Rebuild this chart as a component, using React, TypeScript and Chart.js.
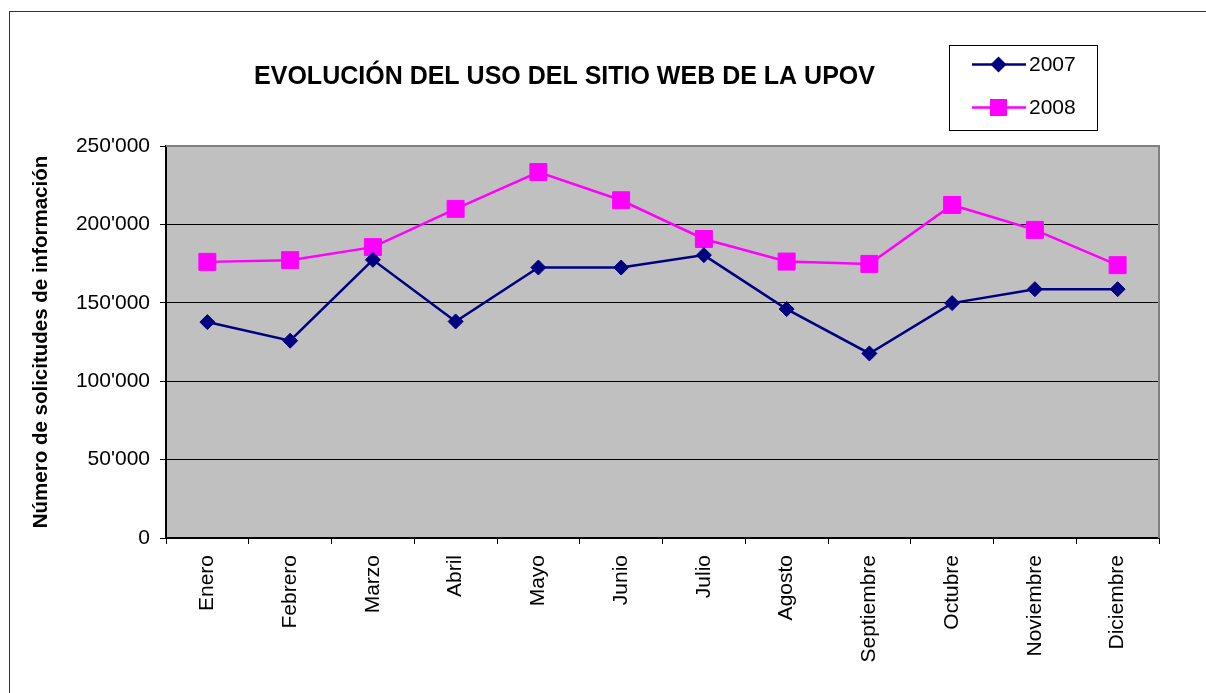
import React, { useEffect, useRef } from "react";
import { Chart, registerables } from "chart.js";

Chart.register(...registerables);

const months = ["Enero", "Febrero", "Marzo", "Abril", "Mayo", "Junio", "Julio", "Agosto", "Septiembre", "Octubre", "Noviembre", "Diciembre"];
const values2007 = [137700, 125800, 177400, 138100, 172500, 172500, 180400, 146000, 117700, 149800, 158700, 158700];
const values2008 = [176100, 177200, 185500, 209900, 233400, 215400, 190700, 176300, 174800, 212400, 196500, 174000];
const seriesNames = ["2007", "2008"];
const titleText = "EVOLUCIÓN DEL USO DEL SITIO WEB DE LA UPOV";
const yAxisTitle = "Número de solicitudes de información";
const yTicks = { min: 0, max: 250000, step: 50000 };

const FONT = "'Liberation Sans', Arial, sans-serif";

const fmt = (v: number) => {
  if (v === 0) return "0";
  const s = Math.round(v).toString();
  return s.replace(/\B(?=(\d{3})+(?!\d))/g, "'");
};

const decorPlugin = {
  id: "decor",
  beforeDraw(chart: any) {
    const { ctx, chartArea, width, height } = chart;
    ctx.save();
    ctx.fillStyle = "#ffffff";
    ctx.fillRect(0, 0, width, height);
    ctx.strokeStyle = "#333333";
    ctx.lineWidth = 1;
    ctx.strokeRect(9.5, 11.5, width + 20, height + 20);
    ctx.fillStyle = "#C0C0C0";
    ctx.fillRect(chartArea.left, chartArea.top, chartArea.right - chartArea.left, chartArea.bottom - chartArea.top);
    ctx.restore();
  },
  beforeDatasetsDraw(chart: any) {
    const { ctx, chartArea } = chart;
    ctx.save();
    ctx.strokeStyle = "#808080";
    ctx.lineWidth = 2;
    ctx.beginPath();
    ctx.moveTo(chartArea.left, chartArea.top);
    ctx.lineTo(chartArea.right, chartArea.top);
    ctx.lineTo(chartArea.right, chartArea.bottom);
    ctx.stroke();
    ctx.restore();
  },
  afterDraw(chart: any) {
    const { ctx } = chart;
    ctx.save();
    // title
    ctx.fillStyle = "#000000";
    ctx.font = `bold 25px ${FONT}`;
    ctx.textAlign = "center";
    ctx.textBaseline = "middle";
    ctx.fillText(titleText, 564.5, 77);
    // legend
    const lx = 949.5, ly = 45.5, lw = 148, lh = 85;
    ctx.fillStyle = "#ffffff";
    ctx.fillRect(lx, ly, lw, lh);
    ctx.strokeStyle = "#000000";
    ctx.lineWidth = 1;
    ctx.strokeRect(lx, ly, lw, lh);
    const rows = [64.5, 107.5];
    chart.data.datasets.forEach((ds: any, i: number) => {
      const y = rows[i];
      ctx.strokeStyle = ds.borderColor;
      ctx.lineWidth = 2.5;
      ctx.beginPath();
      ctx.moveTo(972, y);
      ctx.lineTo(1026, y);
      ctx.stroke();
      ctx.fillStyle = ds.pointBackgroundColor;
      const cx = 998.5;
      if (ds.pointStyle === "rectRot") {
        const r = 8;
        ctx.beginPath();
        ctx.moveTo(cx, y - r);
        ctx.lineTo(cx + r, y);
        ctx.lineTo(cx, y + r);
        ctx.lineTo(cx - r, y);
        ctx.closePath();
        ctx.fill();
      } else {
        ctx.fillRect(cx - 8.5, y - 8.5, 17, 17);
      }
      ctx.fillStyle = "#000000";
      ctx.font = `21px ${FONT}`;
      ctx.textAlign = "left";
      ctx.textBaseline = "middle";
      ctx.fillText(ds.label, 1029, y + 1);
    });
    ctx.restore();
  },
};

export default function App() {
  const ref = useRef<HTMLCanvasElement | null>(null);
  useEffect(() => {
    document.body.style.margin = "0";
    const canvas = ref.current!;
    const chart = new Chart(canvas, {
      type: "line",
      data: {
        labels: months,
        datasets: [
          {
            label: seriesNames[0],
            data: values2007,
            borderColor: "#000080",
            backgroundColor: "#000080",
            pointBackgroundColor: "#000080",
            pointBorderColor: "#000080",
            pointStyle: "rectRot",
            pointRadius: 7.5,
            pointBorderWidth: 1,
            borderWidth: 2.5,
            tension: 0,
          },
          {
            label: seriesNames[1],
            data: values2008,
            borderColor: "#FF00FF",
            backgroundColor: "#FF00FF",
            pointBackgroundColor: "#FF00FF",
            pointBorderColor: "#FF00FF",
            pointStyle: "rect",
            pointRadius: 12,
            pointBorderWidth: 1,
            borderWidth: 2.5,
            tension: 0,
          },
        ],
      },
      options: {
        responsive: false,
        animation: false,
        devicePixelRatio: 1,
        layout: { padding: { left: 0, top: 146, right: 47, bottom: 0 } },
        plugins: {
          legend: { display: false },
          title: { display: false },
          tooltip: { enabled: false },
        },
        scales: {
          x: {
            offset: true,
            grid: {
              offset: true,
              drawOnChartArea: false,
              drawTicks: true,
              tickLength: 6,
              color: "#000000",
            },
            border: { display: true, color: "#000000", width: 2 },
            ticks: {
              autoSkip: false,
              minRotation: 90,
              maxRotation: 90,
              padding: 11,
              color: "#000000",
              font: { family: FONT, size: 21 },
            },
            afterFit: (s: any) => {
              s.height = 693 - 538;
            },
          },
          y: {
            min: yTicks.min,
            max: yTicks.max,
            grid: {
              color: "#000000",
              lineWidth: 1,
              tickLength: 6,
            },
            border: { display: true, color: "#000000", width: 2 },
            ticks: {
              stepSize: yTicks.step,
              padding: 10,
              color: "#000000",
              font: { family: FONT, size: 21 },
              callback: (v: any) => fmt(Number(v)),
            },
            title: {
              display: true,
              text: yAxisTitle,
              color: "#000000",
              font: { family: FONT, size: 20.5, weight: "bold" },
              padding: { top: 29, bottom: 0 },
            },
            afterFit: (s: any) => {
              s.width = 166;
            },
          },
        },
      },
      plugins: [decorPlugin],
    });
    return () => chart.destroy();
  }, []);
  return (
    <div style={{ position: "fixed", left: 0, top: 0, width: 1206, height: 693 }}>
      <canvas ref={ref} width={1206} height={693} style={{ width: 1206, height: 693, display: "block" }} />
    </div>
  );
}
